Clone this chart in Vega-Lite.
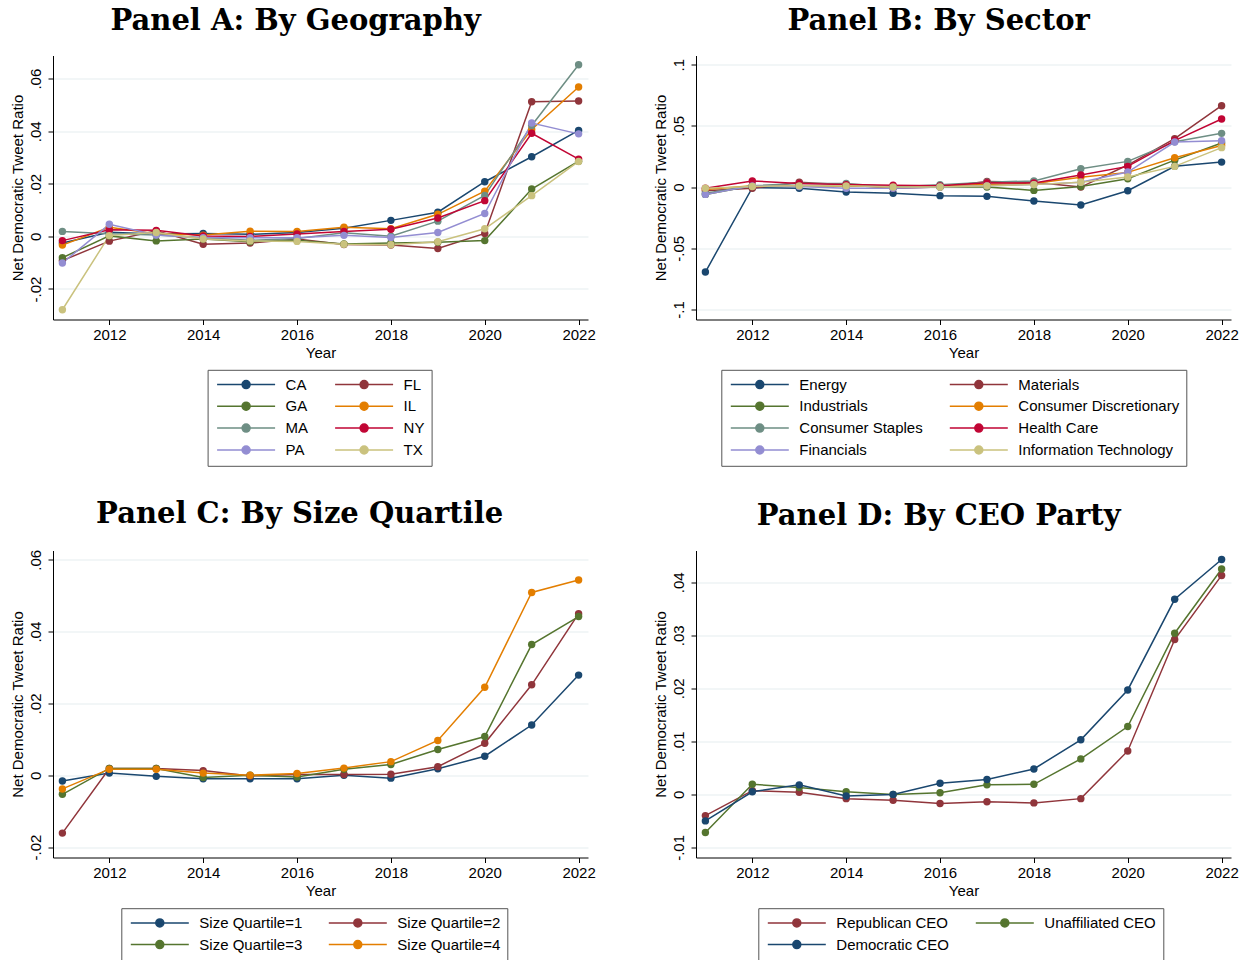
{
"$schema": "https://vega.github.io/schema/vega-lite/v6.json",
"background": "white",
"padding": {"left": 10, "top": 6.5, "right": 5, "bottom": 2},
"bounds": "flush",
"columns": 2,
"spacing": {"column": 108, "row": 231},
"resolve": {"scale": {"x": "independent", "y": "independent", "color": "independent"}, "legend": {"color": "independent"}},
"config": {
  "font": "Liberation Sans",
  "view": {"stroke": null},
  "axis": {"labelFont": "Liberation Sans", "labelFontSize": 15, "labelColor": "#000", "titleFont": "Liberation Sans", "titleFontSize": 15, "titleFontWeight": "normal", "titleColor": "#000", "domainColor": "#000", "domainWidth": 1, "tickColor": "#000", "tickSize": 5, "gridColor": "#e6eef0", "gridWidth": 1.2},
  "axisX": {"grid": false, "labelPadding": 3, "titlePadding": 3, "labelFlush": false},
  "axisY": {"grid": true, "labelAngle": -90, "labelAlign": "center", "labelBaseline": "alphabetic", "labelPadding": 8, "titlePadding": 3},
  "title": {"font": "DejaVu Serif", "fontSize": 29, "fontWeight": "bold", "color": "#000", "anchor": "middle", "frame": "bounds", "offset": 20, "dx": -7},
  "legend": {"orient": "none", "direction": "horizontal", "columns": 2, "labelFont": "Liberation Sans", "labelFontSize": 15, "labelColor": "#000", "labelLimit": 400, "strokeColor": "#555", "padding": 7, "columnPadding": 23, "rowPadding": 5.9, "labelOffset": 56, "symbolType": "M-1,0H10.6M5.6,0A0.8,0.8,0,1,1,4,0A0.8,0.8,0,1,1,5.6,0Z", "symbolSize": 100, "symbolStrokeWidth": 1.5, "symbolOpacity": 1},
  "line": {"strokeWidth": 1.5},
  "point": {"filled": true, "size": 55, "opacity": 1}
},
"datasets": {
  "geo": [
    {"s":"CA","year":2011,"v":-0.0025},{"s":"CA","year":2012,"v":0.0016},{"s":"CA","year":2013,"v":0.0009},{"s":"CA","year":2014,"v":0.0011},{"s":"CA","year":2015,"v":0.0008},{"s":"CA","year":2016,"v":0.0015},{"s":"CA","year":2017,"v":0.0031},{"s":"CA","year":2018,"v":0.0061},{"s":"CA","year":2019,"v":0.0092},{"s":"CA","year":2020,"v":0.0208},{"s":"CA","year":2021,"v":0.0303},{"s":"CA","year":2022,"v":0.0403},
    {"s":"FL","year":2011,"v":-0.0092},{"s":"FL","year":2012,"v":-0.0018},{"s":"FL","year":2013,"v":0.0021},{"s":"FL","year":2014,"v":-0.003},{"s":"FL","year":2015,"v":-0.0025},{"s":"FL","year":2016,"v":-0.001},{"s":"FL","year":2017,"v":-0.0031},{"s":"FL","year":2018,"v":-0.0033},{"s":"FL","year":2019,"v":-0.0046},{"s":"FL","year":2020,"v":0.0011},{"s":"FL","year":2021,"v":0.0512},{"s":"FL","year":2022,"v":0.0515},
    {"s":"GA","year":2011,"v":-0.0081},{"s":"GA","year":2012,"v":0.0002},{"s":"GA","year":2013,"v":-0.0017},{"s":"GA","year":2014,"v":-0.001},{"s":"GA","year":2015,"v":-0.002},{"s":"GA","year":2016,"v":-0.0015},{"s":"GA","year":2017,"v":-0.0029},{"s":"GA","year":2018,"v":-0.0025},{"s":"GA","year":2019,"v":-0.0022},{"s":"GA","year":2020,"v":-0.0016},{"s":"GA","year":2021,"v":0.018},{"s":"GA","year":2022,"v":0.0286},
    {"s":"IL","year":2011,"v":-0.0033},{"s":"IL","year":2012,"v":0.0035},{"s":"IL","year":2013,"v":0.001},{"s":"IL","year":2014,"v":0.0005},{"s":"IL","year":2015,"v":0.002},{"s":"IL","year":2016,"v":0.0019},{"s":"IL","year":2017,"v":0.0035},{"s":"IL","year":2018,"v":0.0029},{"s":"IL","year":2019,"v":0.0084},{"s":"IL","year":2020,"v":0.0172},{"s":"IL","year":2021,"v":0.0407},{"s":"IL","year":2022,"v":0.0568},
    {"s":"MA","year":2011,"v":0.0019},{"s":"MA","year":2012,"v":0.001},{"s":"MA","year":2013,"v":0.0005},{"s":"MA","year":2014,"v":-0.0005},{"s":"MA","year":2015,"v":-0.0015},{"s":"MA","year":2016,"v":-0.0008},{"s":"MA","year":2017,"v":0.0014},{"s":"MA","year":2018,"v":0.0001},{"s":"MA","year":2019,"v":0.0058},{"s":"MA","year":2020,"v":0.0156},{"s":"MA","year":2021,"v":0.0422},{"s":"MA","year":2022,"v":0.0653},
    {"s":"NY","year":2011,"v":-0.0016},{"s":"NY","year":2012,"v":0.0025},{"s":"NY","year":2013,"v":0.0023},{"s":"NY","year":2014,"v":0.0002},{"s":"NY","year":2015,"v":0.0},{"s":"NY","year":2016,"v":0.0009},{"s":"NY","year":2017,"v":0.0019},{"s":"NY","year":2018,"v":0.0027},{"s":"NY","year":2019,"v":0.007},{"s":"NY","year":2020,"v":0.0136},{"s":"NY","year":2021,"v":0.0392},{"s":"NY","year":2022,"v":0.0294},
    {"s":"PA","year":2011,"v":-0.0101},{"s":"PA","year":2012,"v":0.0046},{"s":"PA","year":2013,"v":0.0005},{"s":"PA","year":2014,"v":-0.0005},{"s":"PA","year":2015,"v":-0.0005},{"s":"PA","year":2016,"v":-0.0005},{"s":"PA","year":2017,"v":0.0004},{"s":"PA","year":2018,"v":-0.0004},{"s":"PA","year":2019,"v":0.0015},{"s":"PA","year":2020,"v":0.0087},{"s":"PA","year":2021,"v":0.0431},{"s":"PA","year":2022,"v":0.039},
    {"s":"TX","year":2011,"v":-0.0279},{"s":"TX","year":2012,"v":0.0003},{"s":"TX","year":2013,"v":0.0015},{"s":"TX","year":2014,"v":-0.001},{"s":"TX","year":2015,"v":-0.0017},{"s":"TX","year":2016,"v":-0.0019},{"s":"TX","year":2017,"v":-0.003},{"s":"TX","year":2018,"v":-0.0032},{"s":"TX","year":2019,"v":-0.002},{"s":"TX","year":2020,"v":0.0029},{"s":"TX","year":2021,"v":0.0155},{"s":"TX","year":2022,"v":0.0285}
  ],
  "sector": [
    {"s":"Energy","year":2011,"v":-0.0694},{"s":"Energy","year":2012,"v":-0.0005},{"s":"Energy","year":2013,"v":-0.001},{"s":"Energy","year":2014,"v":-0.004},{"s":"Energy","year":2015,"v":-0.005},{"s":"Energy","year":2016,"v":-0.007},{"s":"Energy","year":2017,"v":-0.0076},{"s":"Energy","year":2018,"v":-0.0114},{"s":"Energy","year":2019,"v":-0.0147},{"s":"Energy","year":2020,"v":-0.003},{"s":"Energy","year":2021,"v":0.017},{"s":"Energy","year":2022,"v":0.0204},
    {"s":"Materials","year":2011,"v":-0.003},{"s":"Materials","year":2012,"v":-0.001},{"s":"Materials","year":2013,"v":0.004},{"s":"Materials","year":2014,"v":0.002},{"s":"Materials","year":2015,"v":-0.001},{"s":"Materials","year":2016,"v":0.0},{"s":"Materials","year":2017,"v":0.0046},{"s":"Materials","year":2018,"v":0.004},{"s":"Materials","year":2019,"v":0.0},{"s":"Materials","year":2020,"v":0.018},{"s":"Materials","year":2021,"v":0.0395},{"s":"Materials","year":2022,"v":0.0665},
    {"s":"Industrials","year":2011,"v":-0.006},{"s":"Industrials","year":2012,"v":0.001},{"s":"Industrials","year":2013,"v":0.001},{"s":"Industrials","year":2014,"v":0.001},{"s":"Industrials","year":2015,"v":0.0},{"s":"Industrials","year":2016,"v":0.0},{"s":"Industrials","year":2017,"v":0.0},{"s":"Industrials","year":2018,"v":-0.0027},{"s":"Industrials","year":2019,"v":0.0005},{"s":"Industrials","year":2020,"v":0.0068},{"s":"Industrials","year":2021,"v":0.022},{"s":"Industrials","year":2022,"v":0.036},
    {"s":"Consumer Discretionary","year":2011,"v":-0.002},{"s":"Consumer Discretionary","year":2012,"v":0.001},{"s":"Consumer Discretionary","year":2013,"v":0.001},{"s":"Consumer Discretionary","year":2014,"v":0.001},{"s":"Consumer Discretionary","year":2015,"v":0.0},{"s":"Consumer Discretionary","year":2016,"v":0.001},{"s":"Consumer Discretionary","year":2017,"v":0.002},{"s":"Consumer Discretionary","year":2018,"v":0.003},{"s":"Consumer Discretionary","year":2019,"v":0.008},{"s":"Consumer Discretionary","year":2020,"v":0.012},{"s":"Consumer Discretionary","year":2021,"v":0.024},{"s":"Consumer Discretionary","year":2022,"v":0.034},
    {"s":"Consumer Staples","year":2011,"v":-0.005},{"s":"Consumer Staples","year":2012,"v":0.001},{"s":"Consumer Staples","year":2013,"v":0.003},{"s":"Consumer Staples","year":2014,"v":0.003},{"s":"Consumer Staples","year":2015,"v":0.0},{"s":"Consumer Staples","year":2016,"v":0.002},{"s":"Consumer Staples","year":2017,"v":0.004},{"s":"Consumer Staples","year":2018,"v":0.005},{"s":"Consumer Staples","year":2019,"v":0.015},{"s":"Consumer Staples","year":2020,"v":0.021},{"s":"Consumer Staples","year":2021,"v":0.037},{"s":"Consumer Staples","year":2022,"v":0.0439},
    {"s":"Health Care","year":2011,"v":-0.001},{"s":"Health Care","year":2012,"v":0.005},{"s":"Health Care","year":2013,"v":0.003},{"s":"Health Care","year":2014,"v":0.002},{"s":"Health Care","year":2015,"v":0.0015},{"s":"Health Care","year":2016,"v":0.001},{"s":"Health Care","year":2017,"v":0.0035},{"s":"Health Care","year":2018,"v":0.0033},{"s":"Health Care","year":2019,"v":0.0098},{"s":"Health Care","year":2020,"v":0.0169},{"s":"Health Care","year":2021,"v":0.038},{"s":"Health Care","year":2022,"v":0.0556},
    {"s":"Financials","year":2011,"v":-0.006},{"s":"Financials","year":2012,"v":0.001},{"s":"Financials","year":2013,"v":0.0005},{"s":"Financials","year":2014,"v":-0.001},{"s":"Financials","year":2015,"v":-0.001},{"s":"Financials","year":2016,"v":0.0},{"s":"Financials","year":2017,"v":0.001},{"s":"Financials","year":2018,"v":0.002},{"s":"Financials","year":2019,"v":0.004},{"s":"Financials","year":2020,"v":0.0123},{"s":"Financials","year":2021,"v":0.0368},{"s":"Financials","year":2022,"v":0.0379},
    {"s":"Information Technology","year":2011,"v":-0.001},{"s":"Information Technology","year":2012,"v":0.0005},{"s":"Information Technology","year":2013,"v":0.001},{"s":"Information Technology","year":2014,"v":0.001},{"s":"Information Technology","year":2015,"v":0.0},{"s":"Information Technology","year":2016,"v":0.0},{"s":"Information Technology","year":2017,"v":0.001},{"s":"Information Technology","year":2018,"v":0.002},{"s":"Information Technology","year":2019,"v":0.004},{"s":"Information Technology","year":2020,"v":0.0082},{"s":"Information Technology","year":2021,"v":0.0169},{"s":"Information Technology","year":2022,"v":0.0322}
  ],
  "size": [
    {"s":"Size Quartile=1","year":2011,"v":-0.0016},{"s":"Size Quartile=1","year":2012,"v":0.0006},{"s":"Size Quartile=1","year":2013,"v":-0.0003},{"s":"Size Quartile=1","year":2014,"v":-0.001},{"s":"Size Quartile=1","year":2015,"v":-0.001},{"s":"Size Quartile=1","year":2016,"v":-0.001},{"s":"Size Quartile=1","year":2017,"v":0.0},{"s":"Size Quartile=1","year":2018,"v":-0.0008},{"s":"Size Quartile=1","year":2019,"v":0.0018},{"s":"Size Quartile=1","year":2020,"v":0.0053},{"s":"Size Quartile=1","year":2021,"v":0.014},{"s":"Size Quartile=1","year":2022,"v":0.0279},
    {"s":"Size Quartile=2","year":2011,"v":-0.0161},{"s":"Size Quartile=2","year":2012,"v":0.0019},{"s":"Size Quartile=2","year":2013,"v":0.0019},{"s":"Size Quartile=2","year":2014,"v":0.0013},{"s":"Size Quartile=2","year":2015,"v":-0.0002},{"s":"Size Quartile=2","year":2016,"v":0.0002},{"s":"Size Quartile=2","year":2017,"v":0.0002},{"s":"Size Quartile=2","year":2018,"v":0.0003},{"s":"Size Quartile=2","year":2019,"v":0.0024},{"s":"Size Quartile=2","year":2020,"v":0.0089},{"s":"Size Quartile=2","year":2021,"v":0.0252},{"s":"Size Quartile=2","year":2022,"v":0.045},
    {"s":"Size Quartile=3","year":2011,"v":-0.0053},{"s":"Size Quartile=3","year":2012,"v":0.0019},{"s":"Size Quartile=3","year":2013,"v":0.0019},{"s":"Size Quartile=3","year":2014,"v":-0.0006},{"s":"Size Quartile=3","year":2015,"v":0.0},{"s":"Size Quartile=3","year":2016,"v":-0.0005},{"s":"Size Quartile=3","year":2017,"v":0.0017},{"s":"Size Quartile=3","year":2018,"v":0.003},{"s":"Size Quartile=3","year":2019,"v":0.0072},{"s":"Size Quartile=3","year":2020,"v":0.0108},{"s":"Size Quartile=3","year":2021,"v":0.0364},{"s":"Size Quartile=3","year":2022,"v":0.0442},
    {"s":"Size Quartile=4","year":2011,"v":-0.0038},{"s":"Size Quartile=4","year":2012,"v":0.0017},{"s":"Size Quartile=4","year":2013,"v":0.0017},{"s":"Size Quartile=4","year":2014,"v":0.0006},{"s":"Size Quartile=4","year":2015,"v":0.0},{"s":"Size Quartile=4","year":2016,"v":0.0005},{"s":"Size Quartile=4","year":2017,"v":0.002},{"s":"Size Quartile=4","year":2018,"v":0.0038},{"s":"Size Quartile=4","year":2019,"v":0.0097},{"s":"Size Quartile=4","year":2020,"v":0.0245},{"s":"Size Quartile=4","year":2021,"v":0.0509},{"s":"Size Quartile=4","year":2022,"v":0.0544}
  ],
  "party": [
    {"s":"Republican CEO","year":2011,"v":-0.004},{"s":"Republican CEO","year":2012,"v":0.0007},{"s":"Republican CEO","year":2013,"v":0.0004},{"s":"Republican CEO","year":2014,"v":-0.0008},{"s":"Republican CEO","year":2015,"v":-0.0011},{"s":"Republican CEO","year":2016,"v":-0.0017},{"s":"Republican CEO","year":2017,"v":-0.0014},{"s":"Republican CEO","year":2018,"v":-0.0016},{"s":"Republican CEO","year":2019,"v":-0.0008},{"s":"Republican CEO","year":2020,"v":0.0082},{"s":"Republican CEO","year":2021,"v":0.0292},{"s":"Republican CEO","year":2022,"v":0.0413},
    {"s":"Unaffiliated CEO","year":2011,"v":-0.0072},{"s":"Unaffiliated CEO","year":2012,"v":0.0019},{"s":"Unaffiliated CEO","year":2013,"v":0.0013},{"s":"Unaffiliated CEO","year":2014,"v":0.0005},{"s":"Unaffiliated CEO","year":2015,"v":0.0},{"s":"Unaffiliated CEO","year":2016,"v":0.0003},{"s":"Unaffiliated CEO","year":2017,"v":0.0018},{"s":"Unaffiliated CEO","year":2018,"v":0.0019},{"s":"Unaffiliated CEO","year":2019,"v":0.0067},{"s":"Unaffiliated CEO","year":2020,"v":0.0128},{"s":"Unaffiliated CEO","year":2021,"v":0.0304},{"s":"Unaffiliated CEO","year":2022,"v":0.0425},
    {"s":"Democratic CEO","year":2011,"v":-0.005},{"s":"Democratic CEO","year":2012,"v":0.0005},{"s":"Democratic CEO","year":2013,"v":0.0018},{"s":"Democratic CEO","year":2014,"v":-0.0003},{"s":"Democratic CEO","year":2015,"v":0.0},{"s":"Democratic CEO","year":2016,"v":0.0021},{"s":"Democratic CEO","year":2017,"v":0.0028},{"s":"Democratic CEO","year":2018,"v":0.0048},{"s":"Democratic CEO","year":2019,"v":0.0103},{"s":"Democratic CEO","year":2020,"v":0.0197},{"s":"Democratic CEO","year":2021,"v":0.0368},{"s":"Democratic CEO","year":2022,"v":0.0443}
  ]
},
"concat": [
  {
    "title": {"text": "Panel A: By Geography"},
    "width": 535, "height": 264,
    "data": {"name": "geo"},
    "encoding": {
      "x": {"field": "year", "type": "quantitative", "scale": {"domain": [2010.8, 2022.2], "nice": false, "zero": false}, "axis": {"values": [2012,2014,2016,2018,2020,2022], "format": "d", "title": "Year"}},
      "y": {"field": "v", "type": "quantitative", "scale": {"domain": [-0.0316, 0.0688], "nice": false, "zero": false}, "axis": {"values": [-0.02,0,0.02,0.04,0.06], "labelExpr": "(datum.value < 0 ? '-' : '') + replace(format(abs(datum.value), '.2~f'), '0.', '.')", "title": "Net Democratic Tweet Ratio"}},
      "color": {"field": "s", "type": "nominal", "scale": {"domain": ["CA","FL","GA","IL","MA","NY","PA","TX"], "range": ["#1a476f","#90353b","#55752f","#e37e00","#6e8e84","#c10534","#938dd2","#cac27e"]},
        "legend": {"title": null, "legendX": 154.6, "legendY": 314.3, "encode": {"symbols": {"update": {"fill": {"signal": "['#1a476f','#90353b','#55752f','#e37e00','#6e8e84','#c10534','#938dd2','#cac27e'][indexof(['CA','FL','GA','IL','MA','NY','PA','TX'], datum.value)]"}, "stroke": {"signal": "['#1a476f','#90353b','#55752f','#e37e00','#6e8e84','#c10534','#938dd2','#cac27e'][indexof(['CA','FL','GA','IL','MA','NY','PA','TX'], datum.value)]"}, "opacity": {"value": 1}}}}}}
    },
    "layer": [{"mark": {"type": "line"}}, {"mark": {"type": "point", "filled": true}}]
  },
  {
    "title": {"text": "Panel B: By Sector"},
    "width": 535, "height": 264,
    "data": {"name": "sector"},
    "encoding": {
      "x": {"field": "year", "type": "quantitative", "scale": {"domain": [2010.8, 2022.2], "nice": false, "zero": false}, "axis": {"values": [2012,2014,2016,2018,2020,2022], "format": "d", "title": "Year"}},
      "y": {"field": "v", "type": "quantitative", "scale": {"domain": [-0.1082, 0.1075], "nice": false, "zero": false}, "axis": {"values": [-0.1,-0.05,0,0.05,0.1], "labelExpr": "(datum.value < 0 ? '-' : '') + replace(format(abs(datum.value), '.2~f'), '0.', '.')", "title": "Net Democratic Tweet Ratio"}},
      "color": {"field": "s", "type": "nominal", "scale": {"domain": ["Energy","Materials","Industrials","Consumer Discretionary","Consumer Staples","Health Care","Financials","Information Technology"], "range": ["#1a476f","#90353b","#55752f","#e37e00","#6e8e84","#c10534","#938dd2","#cac27e"]},
        "legend": {"title": null, "legendX": 25.3, "legendY": 314.3, "encode": {"symbols": {"update": {"fill": {"signal": "['#1a476f','#90353b','#55752f','#e37e00','#6e8e84','#c10534','#938dd2','#cac27e'][indexof(['Energy','Materials','Industrials','Consumer Discretionary','Consumer Staples','Health Care','Financials','Information Technology'], datum.value)]"}, "stroke": {"signal": "['#1a476f','#90353b','#55752f','#e37e00','#6e8e84','#c10534','#938dd2','#cac27e'][indexof(['Energy','Materials','Industrials','Consumer Discretionary','Consumer Staples','Health Care','Financials','Information Technology'], datum.value)]"}, "opacity": {"value": 1}}}}}}
    },
    "layer": [{"mark": {"type": "line"}}, {"mark": {"type": "point", "filled": true}}]
  },
  {
    "title": {"text": "Panel C: By Size Quartile", "dx": -3},
    "width": 535, "height": 307,
    "data": {"name": "size"},
    "encoding": {
      "x": {"field": "year", "type": "quantitative", "scale": {"domain": [2010.8, 2022.2], "nice": false, "zero": false}, "axis": {"values": [2012,2014,2016,2018,2020,2022], "format": "d", "title": "Year"}},
      "y": {"field": "v", "type": "quantitative", "scale": {"domain": [-0.0229, 0.0626], "nice": false, "zero": false}, "axis": {"values": [-0.02,0,0.02,0.04,0.06], "labelExpr": "(datum.value < 0 ? '-' : '') + replace(format(abs(datum.value), '.2~f'), '0.', '.')", "title": "Net Democratic Tweet Ratio"}},
      "color": {"field": "s", "type": "nominal", "scale": {"domain": ["Size Quartile=1","Size Quartile=2","Size Quartile=3","Size Quartile=4"], "range": ["#1a476f","#90353b","#55752f","#e37e00"]},
        "legend": {"title": null, "legendX": 68.3, "legendY": 357.7, "encode": {"symbols": {"update": {"fill": {"signal": "['#1a476f','#90353b','#55752f','#e37e00'][indexof(['Size Quartile=1','Size Quartile=2','Size Quartile=3','Size Quartile=4'], datum.value)]"}, "stroke": {"signal": "['#1a476f','#90353b','#55752f','#e37e00'][indexof(['Size Quartile=1','Size Quartile=2','Size Quartile=3','Size Quartile=4'], datum.value)]"}, "opacity": {"value": 1}}}}}}
    },
    "layer": [{"mark": {"type": "line"}}, {"mark": {"type": "point", "filled": true}}]
  },
  {
    "title": {"text": "Panel D: By CEO Party"},
    "width": 535, "height": 307,
    "data": {"name": "party"},
    "encoding": {
      "x": {"field": "year", "type": "quantitative", "scale": {"domain": [2010.8, 2022.2], "nice": false, "zero": false}, "axis": {"values": [2012,2014,2016,2018,2020,2022], "format": "d", "title": "Year"}},
      "y": {"field": "v", "type": "quantitative", "scale": {"domain": [-0.0119, 0.046], "nice": false, "zero": false}, "axis": {"values": [-0.01,0,0.01,0.02,0.03,0.04], "labelExpr": "(datum.value < 0 ? '-' : '') + replace(format(abs(datum.value), '.2~f'), '0.', '.')", "title": "Net Democratic Tweet Ratio"}},
      "color": {"field": "s", "type": "nominal", "scale": {"domain": ["Republican CEO","Unaffiliated CEO","Democratic CEO"], "range": ["#90353b","#55752f","#1a476f"]},
        "legend": {"title": null, "legendX": 62.3, "legendY": 357.7, "encode": {"symbols": {"update": {"fill": {"signal": "['#90353b','#55752f','#1a476f'][indexof(['Republican CEO','Unaffiliated CEO','Democratic CEO'], datum.value)]"}, "stroke": {"signal": "['#90353b','#55752f','#1a476f'][indexof(['Republican CEO','Unaffiliated CEO','Democratic CEO'], datum.value)]"}, "opacity": {"value": 1}}}}}}
    },
    "layer": [{"mark": {"type": "line"}}, {"mark": {"type": "point", "filled": true}}]
  }
]
}
